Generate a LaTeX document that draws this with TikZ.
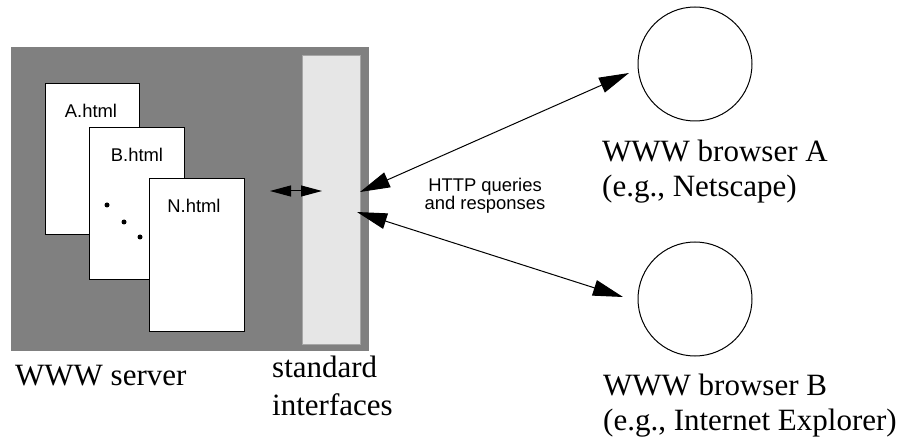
\documentclass[tikz,border=0pt]{standalone}
\usepackage{fontspec}
\setmainfont{Liberation Serif}
\setsansfont{Liberation Sans}
\usetikzlibrary{arrows.meta}
\definecolor{srvgray}{RGB}{128,128,128}
\definecolor{barfill}{RGB}{230,230,230}
\begin{document}
\begin{tikzpicture}[x=1pt,y=-1pt,
  box/.style={anchor=north west,inner sep=0pt,outer sep=0pt},
  page/.style={box,draw=black,line width=1pt,fill=white},
  pagelabel/.style={anchor=base,inner sep=0pt,font=\sffamily\fontsize{18.4}{20}\selectfont},
  serif/.style={anchor=base west,inner sep=0pt,font=\fontsize{31}{36}\selectfont},
  httplabel/.style={anchor=base,inner sep=0pt,font=\sffamily\fontsize{18.4}{19}\selectfont},
  bigarr/.style={{Triangle[length=30pt,width=16pt]}-{Triangle[length=30pt,width=16pt]},line width=1pt},
  smallarr/.style={{Triangle[length=21pt,width=11pt]}-{Triangle[length=21pt,width=11pt]},line width=1pt},
  browser/.style={circle,draw=black,line width=1pt,minimum size=114pt,inner sep=0pt}]
\useasboundingbox (0,0) rectangle (906,441);
% server and interface bar
\node[box,fill=srvgray,minimum width=358pt,minimum height=304pt] (server) at (11,47) {};
\node[box,fill=barfill,draw=gray!70,line width=0.5pt,minimum width=58pt,minimum height=289pt] (bar) at (302,55) {};
% pages
\node[page,minimum width=94pt,minimum height=151pt] (pageA) at (45,84) {};
\node[pagelabel] (labA) at (91,118) {A.html};
\node[page,minimum width=95pt,minimum height=151pt] (pageB) at (89,128) {};
\node[pagelabel] (labB) at (137,162) {B.html};
\node[page,minimum width=95pt,minimum height=152pt] (pageN) at (149,179) {};
\node[pagelabel] (labN) at (194,213) {N.html};
\fill (107,205) circle (2.5pt);
\fill (124,222) circle (2.5pt);
\fill (140,237) circle (2.5pt);
% small double arrow
\coordinate (sL) at (270,191);
\coordinate (sR) at (322,191);
\draw[smallarr] (sL) -- (sR);
% browsers
\node[browser] (brA) at (695,64) {};
\node[browser] (brB) at (695,299) {};
\coordinate (barU) at (360,192);
\coordinate (barD) at (357,212);
\coordinate (tipA) at (629,73);
\coordinate (tipB) at (623,297);
\draw[bigarr] (barU) -- (tipA);
\draw[bigarr] (barD) -- (tipB);
% labels
\node[httplabel] (http1) at (485,192) {HTTP queries};
\node[httplabel] (http2) at (485,210) {and responses};
\node[serif] (srv) at (15,385) {WWW server};
\node[serif] (std1) at (272,377) {standard};
\node[serif] (std2) at (272,415) {interfaces};
\node[serif] (bA1) at (602,162) {WWW browser A};
\node[serif] (bA2) at (602,197) {(e.g., Netscape)};
\node[serif] (bB1) at (603,395) {WWW browser B};
\node[serif] (bB2) at (603,430) {(e.g., Internet Explorer)};
\end{tikzpicture}
\end{document}
